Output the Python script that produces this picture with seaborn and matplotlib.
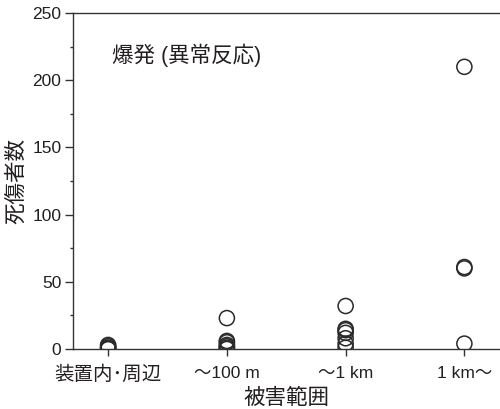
import matplotlib
matplotlib.use("Agg")
import matplotlib.pyplot as plt
from matplotlib.ticker import MultipleLocator
import pandas as pd
import seaborn as sns

# Damage range categories and casualty counts per incident
categories = ["装置内･周辺", "〜100 m", "〜1 km", "1 km〜"]
vals_device = [3, 2, 1, 0, 0]
vals_100m = [23, 6, 5, 3, 2, 1, 0]
vals_1km = [32, 15, 14, 12, 8, 4, 1]
vals_over1km = [210, 61, 60, 4]

series = [vals_device, vals_100m, vals_1km, vals_over1km]
df = pd.DataFrame({
    "range": [c for c, v in zip(categories, series) for _ in v],
    "casualties": [x for v in series for x in v],
})

sns.set_theme(style="ticks")
fam = ["Liberation Sans", "Noto Sans CJK JP", "DejaVu Sans"]
plt.rcParams["font.family"] = fam
ink = "#231f20"

fig = plt.figure(figsize=(5.0, 4.09), dpi=100)
ax = fig.add_axes([0.145, 0.1467, 0.855, 0.8213])

sns.scatterplot(data=df, x="range", y="casualties", ax=ax,
                marker="o", s=118, facecolors="none",
                edgecolor="#2a2a2a", linewidth=1.1, legend=False)

ax.set_xlim(-0.30, 3.30)
ax.set_ylim(0, 250)
ax.yaxis.set_major_locator(MultipleLocator(50))
ax.yaxis.set_minor_locator(MultipleLocator(25))
ax.set_xticks(range(len(categories)))
ax.set_xticklabels(categories)

for s in ["top", "left", "bottom"]:
    ax.spines[s].set_color("#333333")
    ax.spines[s].set_linewidth(1.0)
ax.spines["right"].set_visible(False)

ax.tick_params(axis="y", which="major", direction="out", length=6, width=1,
               color="#333333", labelsize=12.5, labelcolor=ink, pad=2)
ax.tick_params(axis="y", which="minor", direction="out", length=2.5, width=1,
               color="#333333")
ax.tick_params(axis="x", which="major", direction="out", length=5, width=1,
               color="#333333", labelsize=12.5, labelcolor=ink, pad=7)
# the all-CJK category label is set a bit larger than the Latin ones
ax.get_xticklabels()[0].set_fontsize(14)

ax.set_xlabel("被害範囲", fontsize=15.5, color=ink, labelpad=3)
ax.set_ylabel("死傷者数", fontsize=15.5, color=ink, labelpad=4)

ax.text(0.093, 0.875, "爆発 (異常反応)", transform=ax.transAxes,
        fontsize=15.5, color=ink, ha="left", va="center")

fig.savefig("out.png", dpi=100)
